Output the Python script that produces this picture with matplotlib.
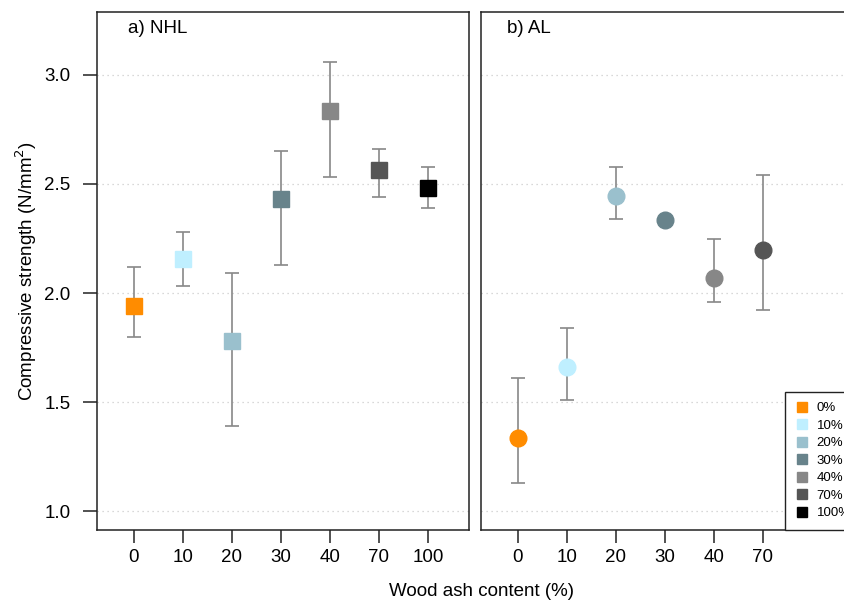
import numpy as np
import matplotlib.pyplot as plt

plt.rcParams['font.family'] = ['Liberation Sans', 'DejaVu Sans']

labels_a = ['0', '10', '20', '30', '40', '70', '100']
mean_a = [1.94, 2.155, 1.78, 2.43, 2.835, 2.565, 2.48]
low_a = [1.80, 2.03, 1.39, 2.13, 2.53, 2.44, 2.39]
high_a = [2.12, 2.28, 2.09, 2.65, 3.06, 2.66, 2.58]

labels_b = ['0', '10', '20', '30', '40', '70']
mean_b = [1.335, 1.66, 2.445, 2.335, 2.07, 2.195]
low_b = [1.13, 1.51, 2.34, 2.335, 1.96, 1.92]
high_b = [1.61, 1.84, 2.58, 2.335, 2.25, 2.54]

colors = ['#FF8C00', '#BFEFFF', '#9AC0CD', '#68838B', '#878787', '#555555', '#000000']
legend_labels = ['0%', '10%', '20%', '30%', '40%', '70%', '100%']

fs = 13.5

fig = plt.figure(figsize=(8.45, 6.01), dpi=100)
w = 0.4403
ax1 = fig.add_axes([0.1148, 0.1181, w, 0.862])
ax2 = fig.add_axes([0.5692, 0.1181, w, 0.862])


def panel(ax, labels, mean, low, high, marker, ms):
    x = np.arange(1, len(labels) + 1)
    mean = np.array(mean)
    yerr = [mean - np.array(low), np.array(high) - mean]
    for y in [1.0, 1.5, 2.0, 2.5, 3.0]:
        ax.axhline(y, color='#cccccc', linestyle=(0, (1, 3)), linewidth=0.9, zorder=0)
    ax.errorbar(x, mean, yerr=yerr, fmt='none', ecolor='#888888', elinewidth=1.2,
                capsize=5, capthick=1.2, zorder=2)
    for xi, yi, c in zip(x, mean, colors):
        ax.plot(xi, yi, marker=marker, color=c, markersize=ms, linestyle='none', zorder=3)
    ax.set_xlim(0.245, 7.84)
    ax.set_ylim(0.913, 3.289)
    ax.set_xticks(x)
    ax.set_xticklabels(labels)
    for s in ax.spines.values():
        s.set_linewidth(1.1)
        s.set_color('#222222')
    ax.tick_params(axis='x', direction='out', length=9.5, width=1.1, pad=4,
                   labelsize=fs, color='#222222')


panel(ax1, labels_a, mean_a, low_a, high_a, 's', 11.5)
panel(ax2, labels_b, mean_b, low_b, high_b, 'o', 12)

ax1.set_yticks([1.0, 1.5, 2.0, 2.5, 3.0])
ax1.set_yticklabels(['1.0', '1.5', '2.0', '2.5', '3.0'])
ax1.tick_params(axis='y', direction='out', length=10, width=1.1, pad=9,
                labelsize=fs, color='#222222')
ax2.set_yticks([])

ax1.set_ylabel('Compressive strength (N/mm$^2$)', fontsize=fs, labelpad=4)
ax1.text(0.083, 0.969, 'a) NHL', transform=ax1.transAxes, fontsize=fs,
         ha='left', va='center')
ax2.text(0.07, 0.969, 'b) AL', transform=ax2.transAxes, fontsize=fs,
         ha='left', va='center')
fig.text(0.57, 0.016, 'Wood ash content (%)', fontsize=fs, ha='center', va='center')

handles = [plt.Line2D([], [], marker='s', color=c, linestyle='none', markersize=7)
           for c in colors]
leg = ax2.legend(handles, legend_labels, loc='lower left', bbox_to_anchor=(0.817, 0.0),
                 fontsize=9.5, frameon=True, fancybox=False, framealpha=1,
                 edgecolor='#222222', borderaxespad=0, handlelength=1.0,
                 handletextpad=0.6, labelspacing=0.4, borderpad=0.8)
leg.get_frame().set_linewidth(1.0)

fig.savefig('out.png', dpi=100)
